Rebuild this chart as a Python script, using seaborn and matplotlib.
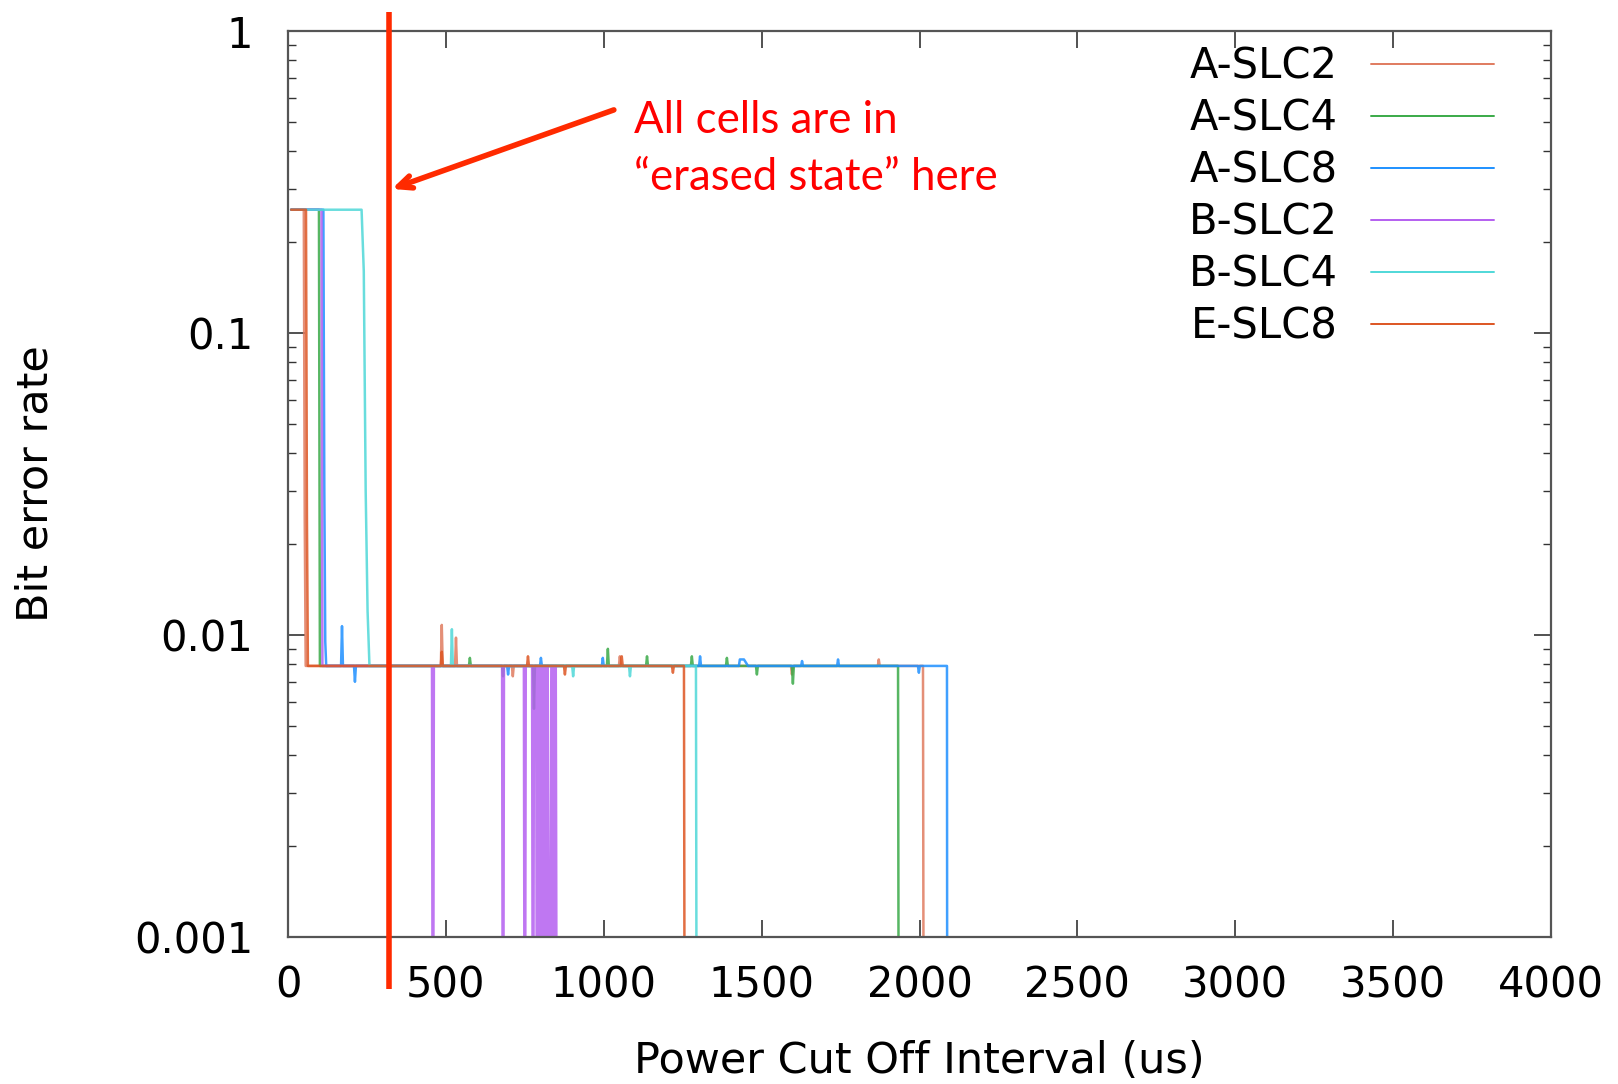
import matplotlib
matplotlib.use("Agg")
import matplotlib.pyplot as plt
from matplotlib import font_manager as fm
import numpy as np
import pandas as pd
import seaborn as sns

# ---------------- data ----------------
series_order = ["A-SLC2", "A-SLC4", "A-SLC8", "B-SLC2", "B-SLC4", "E-SLC8"]
series_colors = ["#e07b5f", "#3aaa48", "#1e90ff", "#b45ff0", "#4fd8d8", "#dd5522"]

a_slc2_t = [10, 50, 53, 56, 484, 487, 490, 529, 532, 535, 709, 712, 715, 1048, 1051, 1054,
            1593, 1596, 1599, 1868, 1871, 1874, 2011, 2014]
a_slc2_ber = [0.256, 0.256, 0.024, 0.0079, 0.0079, 0.0108, 0.0079, 0.0079, 0.0098, 0.0079,
              0.0079, 0.0073, 0.0079, 0.0079, 0.0085, 0.0079, 0.0079, 0.0074, 0.0079,
              0.0079, 0.0083, 0.0079, 0.0079, 1e-4]

a_slc4_t = [10, 98, 101, 573, 576, 579, 678, 681, 684, 776, 779, 782, 1010, 1013, 1016,
            1134, 1137, 1140, 1276, 1279, 1282, 1387, 1390, 1393, 1482, 1485, 1488,
            1596, 1599, 1602, 1932, 1935]
a_slc4_ber = [0.256, 0.256, 0.0079, 0.0079, 0.0084, 0.0079, 0.0079, 0.0073, 0.0079,
              0.0079, 0.0057, 0.0079, 0.0079, 0.0090, 0.0079, 0.0079, 0.0085, 0.0079,
              0.0079, 0.0085, 0.0079, 0.0079, 0.0084, 0.0079, 0.0079, 0.0074, 0.0079,
              0.0079, 0.0069, 0.0079, 0.0079, 1e-4]

a_slc8_t = [10, 112, 115, 118, 121, 168, 171, 174, 209, 212, 215, 694, 697, 700, 798, 801, 804,
            994, 997, 1000, 1302, 1305, 1308, 1428, 1431, 1444, 1457, 1625, 1628, 1631,
            1739, 1742, 1745, 1995, 1998, 2001, 2087, 2088]
a_slc8_ber = [0.256, 0.256, 0.030, 0.0095, 0.0079, 0.0079, 0.0107, 0.0079, 0.0079, 0.0070,
              0.0079, 0.0079, 0.0074, 0.0079, 0.0079, 0.0084, 0.0079, 0.0079, 0.0084, 0.0079,
              0.0079, 0.0085, 0.0079, 0.0079, 0.0083, 0.0083, 0.0079, 0.0079, 0.0082, 0.0079,
              0.0079, 0.0083, 0.0079, 0.0079, 0.0075, 0.0079, 0.0079, 1e-4]

b_slc2_t = [10, 106, 109, 456, 459, 462, 678, 681, 684, 747, 750, 753, 773, 776, 779,
            786, 789, 792, 795, 798, 801, 804, 807, 810, 813, 816, 819, 822, 825,
            834, 837, 840, 845, 848, 852]
b_slc2_ber = [0.256, 0.256, 0.0079, 0.0079, 1e-4, 0.0079, 0.0079, 1e-4, 0.0079, 0.0079, 1e-4,
              0.0079, 0.0079, 1e-4, 0.0079, 0.0079, 1e-4, 0.0079, 1e-4, 0.0079, 1e-4, 0.0079,
              1e-4, 0.0079, 1e-4, 0.0079, 1e-4, 0.0079, 1e-4, 0.0079, 1e-4, 0.0079, 1e-4,
              0.0079, 1e-4]

b_slc4_t = [10, 233, 240, 246, 252, 258, 516, 519, 522, 900, 903, 906, 1080, 1083, 1086,
            1292, 1295]
b_slc4_ber = [0.256, 0.256, 0.16, 0.03, 0.012, 0.0079, 0.0079, 0.01045, 0.0079, 0.0079,
              0.0073, 0.0079, 0.0079, 0.0073, 0.0079, 0.0079, 1e-4]

e_slc8_t = [10, 57, 60, 63, 484, 487, 490, 757, 760, 763, 874, 877, 880, 1054, 1057, 1060,
            1216, 1219, 1222, 1254, 1257]
e_slc8_ber = [0.256, 0.256, 0.024, 0.0079, 0.0079, 0.0088, 0.0079, 0.0079, 0.0085, 0.0079,
              0.0079, 0.0074, 0.0079, 0.0079, 0.0085, 0.0079, 0.0079, 0.0075, 0.0079,
              0.0079, 1e-4]

x_ticks = [0, 500, 1000, 1500, 2000, 2500, 3000, 3500, 4000]
y_ticks = [0.001, 0.01, 0.1, 1]
y_tick_labels = ["0.001", "0.01", "0.1", "1"]

marker_x = 320
annot_line1 = "All cells are in"
annot_line2 = "\u201cerased state\u201d here"

# ---------------- build table ----------------
pairs = [(a_slc2_t, a_slc2_ber), (a_slc4_t, a_slc4_ber), (a_slc8_t, a_slc8_ber),
         (b_slc2_t, b_slc2_ber), (b_slc4_t, b_slc4_ber), (e_slc8_t, e_slc8_ber)]
frames = []
for name, (t, b) in zip(series_order, pairs):
    frames.append(pd.DataFrame({"t": t, "ber": b, "series": name}))
df = pd.concat(frames, ignore_index=True)

# ---------------- fonts / style ----------------
sns.set_style("ticks")
available = {f.name for f in fm.fontManager.ttflist}
plt.rcParams["font.family"] = ["DejaVu Sans"]
plt.rcParams["text.color"] = "black"
plt.rcParams["axes.labelcolor"] = "black"
plt.rcParams["xtick.color"] = "black"
plt.rcParams["ytick.color"] = "black"
annot_family = ["Lato", "DejaVu Sans"] if "Lato" in available else ["DejaVu Sans"]

# ---------------- figure ----------------
fig = plt.figure(figsize=(16.18, 10.84), dpi=100)
ax = fig.add_axes([0.178, 0.1356, 0.7806, 0.8358])

sns.lineplot(data=df, x="t", y="ber", hue="series", hue_order=series_order,
             palette=dict(zip(series_order, series_colors)), estimator=None, sort=False,
             linewidth=1.8, alpha=0.85, ax=ax)

ax.set_yscale("log")
ax.set_xlim(0, 4000)
ax.set_ylim(0.001, 1)
ax.set_xticks(x_ticks)
ax.set_xticklabels([str(v) for v in x_ticks])
ax.set_yticks(y_ticks)
ax.set_yticklabels(y_tick_labels)
ax.xaxis.set_minor_locator(matplotlib.ticker.NullLocator())
ax.yaxis.set_minor_locator(matplotlib.ticker.LogLocator(base=10, subs=np.arange(2, 10)))
ax.yaxis.set_minor_formatter(matplotlib.ticker.NullFormatter())
ax.tick_params(which="both", direction="in", top=True, right=True, color="#333333",
               labelcolor="black")
ax.tick_params(which="major", length=12, width=1.2)
ax.tick_params(which="minor", length=6, width=1.0)
ax.tick_params(axis="x", which="major", labelsize=30, pad=20)
ax.tick_params(axis="y", which="major", labelsize=30, pad=25)
for s in ax.spines.values():
    s.set_color("#555555")
    s.set_linewidth(1.6)

ax.set_xlabel("Power Cut Off Interval (us)", fontsize=31, labelpad=24, color="black")
ax.set_ylabel("Bit error rate", fontsize=31, labelpad=56, color="black")

handles, labels = ax.get_legend_handles_labels()
for h in handles:
    h.set_linewidth(1.4)
    h.set_alpha(1.0)
leg = ax.legend(handles, labels, loc="upper right", bbox_to_anchor=(0.955, 0.984),
                frameon=False, markerfirst=False, fontsize=30, handlelength=2.95,
                handletextpad=0.8, labelspacing=0.24, borderaxespad=0, borderpad=0)
for txt in leg.get_texts():
    txt.set_color("black")

# red marker line and annotation
trans = matplotlib.transforms.blended_transform_factory(ax.transData, ax.transAxes)
ax.plot([marker_x, marker_x], [1.0205, -0.057], color="#ff2a00", linewidth=4, transform=trans,
        clip_on=False, solid_capstyle="butt", zorder=5)
ax.annotate("", xy=(329, 0.30), xytext=(1032, 0.548),
            arrowprops=dict(arrowstyle="->,head_length=1.0,head_width=0.45", color="#ff2a00",
                            lw=4, shrinkA=0, shrinkB=0), zorder=6)
ax.text(1095, 0.505, annot_line1, color="#ff0000", fontsize=31.5, family=annot_family,
        ha="left", va="center")
ax.text(1095, 0.327, annot_line2, color="#ff0000", fontsize=31.5, family=annot_family,
        ha="left", va="center")

fig.savefig("out.png", dpi=100, facecolor="white")
